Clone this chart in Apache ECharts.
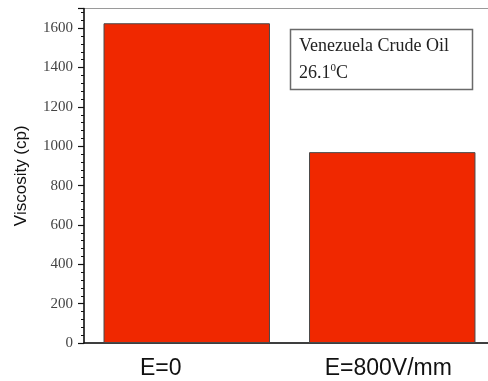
<!DOCTYPE html>
<html>
<head>
<meta charset="utf-8">
<script src="https://cdn.jsdelivr.net/npm/echarts@6/dist/echarts.min.js"></script>
<style>
  html, body { margin: 0; padding: 0; background: #fff; }
  #chart { width: 488px; height: 381px; }
</style>
</head>
<body>
<div id="chart"></div>
<script>
// Viscosity of Venezuela crude oil with and without an applied field
const categories = ['E=0', 'E=800V/mm'];
const viscosity = [1625, 970];
const yTicks = [0, 200, 400, 600, 800, 1000, 1200, 1400, 1600];
const yMax = 1700;

const chart = echarts.init(document.getElementById('chart'));

const serif = '"Liberation Serif", "DejaVu Serif", serif';
const sans = '"Liberation Sans", Arial, sans-serif';

chart.setOption({
  animation: false,
  grid: {
    left: 84, top: 8.5, width: 411, bottom: 38,
    outerBoundsMode: 'none',
    containLabel: false,
    show: true, borderColor: '#9a9a9a', borderWidth: 1
  },
  xAxis: [
    {
      type: 'category',
      data: categories,
      axisLine: { lineStyle: { color: '#111', width: 1.5 } },
      axisTick: { alignWithLabel: true, length: 7, lineStyle: { color: '#111', width: 1.5 } },
      axisLabel: {
        color: '#111', fontFamily: sans, fontSize: 23, margin: 14,
        formatter: v => v === 'E=0' ? '{l|' + v + '}' : '{r|' + v + '}',
        rich: {
          l: { fontFamily: sans, fontSize: 23, color: '#111', padding: [0, 52, 0, 0] },
          r: { fontFamily: sans, fontSize: 23, color: '#111', padding: [0, 8, 0, 0] }
        }
      }
    },
    {
      // short ticks on the category boundaries
      type: 'category',
      data: categories,
      position: 'bottom',
      axisLine: { show: false },
      axisTick: { length: 4, lineStyle: { color: '#111', width: 1.2 } },
      axisLabel: { show: false }
    }
  ],
  yAxis: [
    {
      type: 'value',
      min: 0, max: yMax, interval: 200,
      name: 'Viscosity (cp)',
      nameLocation: 'middle',
      nameGap: 54,
      nameTextStyle: { fontFamily: sans, fontSize: 17, color: '#111' },
      axisLine: { show: true, lineStyle: { color: '#111', width: 1.5 } },
      axisTick: { show: true, length: 6, lineStyle: { color: '#111', width: 1.2 } },
      axisLabel: {
        color: '#444', fontFamily: serif, fontSize: 15, margin: 11,
        formatter: v => yTicks.includes(v) ? String(v) : ''
      },
      splitLine: { show: false }
    },
    {
      // minor ticks every 40
      type: 'value',
      min: 0, max: yMax, interval: 40,
      position: 'left',
      axisLine: { show: false },
      axisTick: { show: true, length: 3, lineStyle: { color: '#111', width: 1 } },
      axisLabel: { show: false },
      splitLine: { show: false }
    }
  ],
  series: [{
    type: 'bar',
    data: viscosity,
    barWidth: '81%',
    itemStyle: { color: '#f02800', borderColor: '#4a4a4a', borderWidth: 1 }
  }],
  graphic: [
    {
      type: 'rect',
      shape: { x: 290.5, y: 29.5, width: 182, height: 60 },
      style: { fill: '#fff', stroke: '#6a6a6a', lineWidth: 1.5 }
    },
    {
      type: 'text',
      left: 299, top: 37,
      style: { text: 'Venezuela Crude Oil', fontFamily: serif, fontSize: 18, fill: '#222' }
    },
    {
      type: 'text',
      left: 299, top: 63,
      style: {
        text: '{a|26.1}{s|0}{a|C}',
        rich: {
          a: { fontFamily: serif, fontSize: 18, fill: '#222', verticalAlign: 'bottom' },
          s: { fontFamily: serif, fontSize: 11, fill: '#222', verticalAlign: 'top', padding: [0, 0, 8, 0] }
        }
      }
    }
  ]
});
</script>
</body>
</html>
